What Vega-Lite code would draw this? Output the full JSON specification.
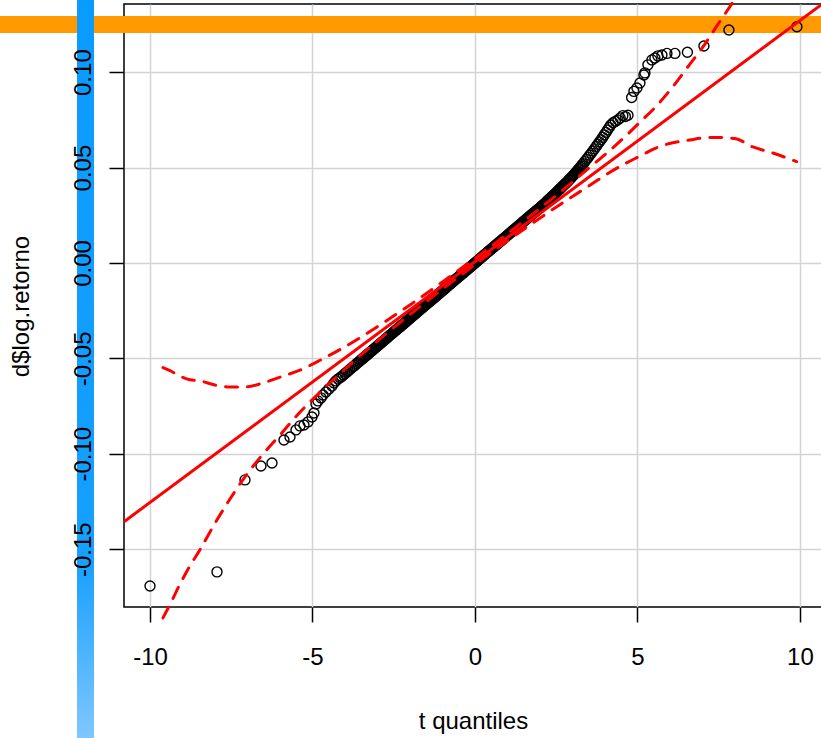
{
  "$schema": "https://vega.github.io/schema/vega-lite/v6.json",
  "width": 698,
  "height": 603,
  "autosize": {"type": "none"},
  "padding": {"left": 124, "top": 4, "right": 0, "bottom": 131},
  "background": "white",
  "config": {
    "view": {"stroke": "black", "strokeWidth": 1.5},
    "font": "Liberation Sans"
  },
  "datasets": {
    "hband": [{"x1": -15, "x2": 11, "y1": 0.1294, "y2": 0.1205}],
    "vband": [{"x1": -12.246, "x2": -11.723, "y1": 0.14, "y2": -0.25}],
    "fit": [{"x": -10.8, "y": -0.1356}, {"x": 10.65, "y": 0.1352}],
    "upper": [
      {"x": -9.6, "y": -0.0548}, {"x": -9.385, "y": -0.0564}, {"x": -9.077, "y": -0.0593}, {"x": -8.769, "y": -0.0612},
      {"x": -8.462, "y": -0.0618}, {"x": -8.0, "y": -0.064}, {"x": -7.538, "y": -0.065}, {"x": -7.077, "y": -0.065},
      {"x": -6.554, "y": -0.0631}, {"x": -6.0, "y": -0.0598}, {"x": -5.385, "y": -0.0562}, {"x": -4.769, "y": -0.051},
      {"x": -4.154, "y": -0.0454}, {"x": -3.538, "y": -0.0392}, {"x": -2.769, "y": -0.0308}, {"x": -1.846, "y": -0.0202},
      {"x": -0.923, "y": -0.009}, {"x": 0, "y": 0.0024}, {"x": 0.923, "y": 0.0143}, {"x": 1.846, "y": 0.0265},
      {"x": 2.769, "y": 0.0391}, {"x": 3.538, "y": 0.0502}, {"x": 4.154, "y": 0.059}, {"x": 4.615, "y": 0.0661},
      {"x": 5.077, "y": 0.0738}, {"x": 5.6, "y": 0.0825}, {"x": 6.092, "y": 0.0924}, {"x": 6.615, "y": 0.1042},
      {"x": 7.015, "y": 0.1132}, {"x": 7.477, "y": 0.125}, {"x": 8.0, "y": 0.1385}, {"x": 8.308, "y": 0.1476}
    ],
    "lower": [
      {"x": -9.6, "y": -0.186}, {"x": -9.385, "y": -0.179}, {"x": -9.077, "y": -0.1683}, {"x": -8.769, "y": -0.1587},
      {"x": -8.462, "y": -0.1503}, {"x": -8.0, "y": -0.1364}, {"x": -7.538, "y": -0.1237}, {"x": -7.077, "y": -0.1121},
      {"x": -6.554, "y": -0.1008}, {"x": -6.0, "y": -0.0902}, {"x": -5.385, "y": -0.0782}, {"x": -4.769, "y": -0.0678},
      {"x": -4.154, "y": -0.058}, {"x": -3.538, "y": -0.0486}, {"x": -2.769, "y": -0.0376}, {"x": -1.846, "y": -0.0249},
      {"x": -0.923, "y": -0.0127}, {"x": 0, "y": -0.0008}, {"x": 0.923, "y": 0.0106}, {"x": 1.846, "y": 0.0217},
      {"x": 2.769, "y": 0.0323}, {"x": 3.538, "y": 0.0407}, {"x": 4.154, "y": 0.0475}, {"x": 4.615, "y": 0.052},
      {"x": 5.077, "y": 0.056}, {"x": 5.6, "y": 0.0605}, {"x": 6.092, "y": 0.063}, {"x": 6.615, "y": 0.0644},
      {"x": 7.015, "y": 0.0655}, {"x": 7.477, "y": 0.0658}, {"x": 8.0, "y": 0.0652}, {"x": 8.554, "y": 0.0608},
      {"x": 9.169, "y": 0.0576}, {"x": 9.898, "y": 0.0531}
    ],
    "pts": [
      {"x": -10.0, "y": -0.1693}, {"x": -7.938, "y": -0.1619}, {"x": -7.077, "y": -0.1137}, {"x": -6.585, "y": -0.1064},
      {"x": -6.246, "y": -0.1048}, {"x": -5.877, "y": -0.0928}, {"x": -5.692, "y": -0.0912}, {"x": -5.508, "y": -0.0875},
      {"x": -5.385, "y": -0.0854}, {"x": -5.262, "y": -0.0849}, {"x": -5.138, "y": -0.0833}, {"x": -5.015, "y": -0.0807},
      {"x": -4.954, "y": -0.0786}, {"x": -4.892, "y": -0.0739}, {"x": -4.831, "y": -0.0723}, {"x": -4.738, "y": -0.0707},
      {"x": -4.677, "y": -0.0692}, {"x": -4.585, "y": -0.0676}, {"x": -4.492, "y": -0.066}, {"x": -4.4, "y": -0.0645},
      {"x": -4.338, "y": -0.0629}, {"x": -4.277, "y": -0.0618}, {"x": -4.215, "y": -0.0608},
      {"x": -4.15, "y": -0.0602}, {"x": -4.1, "y": -0.0595}, {"x": -4.05, "y": -0.0587}, {"x": -4.0, "y": -0.058},
      {"x": -3.95, "y": -0.0573}, {"x": -3.9, "y": -0.0566}, {"x": -3.85, "y": -0.0558}, {"x": -3.8, "y": -0.0551},
      {"x": -3.75, "y": -0.0544}, {"x": -3.7, "y": -0.0537}, {"x": -3.65, "y": -0.0529}, {"x": -3.6, "y": -0.0522},
      {"x": -3.55, "y": -0.0515}, {"x": -3.51, "y": -0.0509},
      {"x": -3.48, "y": -0.0505}, {"x": -3.45, "y": -0.05}, {"x": -3.42, "y": -0.0496}, {"x": -3.39, "y": -0.0492},
      {"x": -3.36, "y": -0.0487}, {"x": -3.33, "y": -0.0483}, {"x": -3.3, "y": -0.0479}, {"x": -3.27, "y": -0.0474},
      {"x": -3.24, "y": -0.047}, {"x": -3.21, "y": -0.0465}, {"x": -3.18, "y": -0.0461}, {"x": -3.15, "y": -0.0457},
      {"x": -3.12, "y": -0.0452}, {"x": -3.09, "y": -0.0448}, {"x": -3.06, "y": -0.0444}, {"x": -3.03, "y": -0.0439},
      {"x": -3.0, "y": -0.0435}, {"x": -2.97, "y": -0.0431}, {"x": -2.94, "y": -0.0426}, {"x": -2.91, "y": -0.0422},
      {"x": -2.88, "y": -0.0418}, {"x": -2.85, "y": -0.0413}, {"x": -2.82, "y": -0.0409}, {"x": -2.79, "y": -0.0405},
      {"x": -2.76, "y": -0.04}, {"x": -2.73, "y": -0.0396}, {"x": -2.7, "y": -0.0392}, {"x": -2.67, "y": -0.0387},
      {"x": -2.64, "y": -0.0383}, {"x": -2.61, "y": -0.0378}, {"x": -2.58, "y": -0.0374}, {"x": -2.55, "y": -0.037},
      {"x": -2.52, "y": -0.0365}, {"x": -2.49, "y": -0.0361}, {"x": -2.46, "y": -0.0357}, {"x": -2.43, "y": -0.0352},
      {"x": -2.4, "y": -0.0348}, {"x": -2.37, "y": -0.0344}, {"x": -2.34, "y": -0.0339}, {"x": -2.31, "y": -0.0335},
      {"x": -2.28, "y": -0.0331}, {"x": -2.25, "y": -0.0326}, {"x": -2.22, "y": -0.0322}, {"x": -2.19, "y": -0.0318},
      {"x": -2.16, "y": -0.0313}, {"x": -2.13, "y": -0.0309}, {"x": -2.1, "y": -0.0305}, {"x": -2.07, "y": -0.03},
      {"x": -2.04, "y": -0.0296}, {"x": -2.01, "y": -0.0291}, {"x": -1.98, "y": -0.0287}, {"x": -1.95, "y": -0.0283},
      {"x": -1.92, "y": -0.0278}, {"x": -1.89, "y": -0.0274}, {"x": -1.86, "y": -0.027}, {"x": -1.83, "y": -0.0265},
      {"x": -1.8, "y": -0.0261}, {"x": -1.77, "y": -0.0257}, {"x": -1.74, "y": -0.0252}, {"x": -1.71, "y": -0.0248},
      {"x": -1.68, "y": -0.0244}, {"x": -1.65, "y": -0.0239}, {"x": -1.62, "y": -0.0235}, {"x": -1.59, "y": -0.0231},
      {"x": -1.56, "y": -0.0226}, {"x": -1.53, "y": -0.0222}, {"x": -1.5, "y": -0.0218}, {"x": -1.47, "y": -0.0213},
      {"x": -1.44, "y": -0.0209}, {"x": -1.41, "y": -0.0204}, {"x": -1.38, "y": -0.02}, {"x": -1.35, "y": -0.0196},
      {"x": -1.32, "y": -0.0191}, {"x": -1.29, "y": -0.0187}, {"x": -1.26, "y": -0.0183}, {"x": -1.23, "y": -0.0178},
      {"x": -1.2, "y": -0.0174}, {"x": -1.17, "y": -0.017}, {"x": -1.14, "y": -0.0165}, {"x": -1.11, "y": -0.0161},
      {"x": -1.08, "y": -0.0157}, {"x": -1.05, "y": -0.0152}, {"x": -1.02, "y": -0.0148}, {"x": -0.99, "y": -0.0144},
      {"x": -0.96, "y": -0.0139}, {"x": -0.93, "y": -0.0135}, {"x": -0.9, "y": -0.0131}, {"x": -0.87, "y": -0.0126},
      {"x": -0.84, "y": -0.0122}, {"x": -0.81, "y": -0.0117}, {"x": -0.78, "y": -0.0113}, {"x": -0.75, "y": -0.0109},
      {"x": -0.72, "y": -0.0104}, {"x": -0.69, "y": -0.01}, {"x": -0.66, "y": -0.0096}, {"x": -0.63, "y": -0.0091},
      {"x": -0.6, "y": -0.0087}, {"x": -0.57, "y": -0.0083}, {"x": -0.54, "y": -0.0078}, {"x": -0.51, "y": -0.0074},
      {"x": -0.48, "y": -0.007}, {"x": -0.45, "y": -0.0065}, {"x": -0.42, "y": -0.0061}, {"x": -0.39, "y": -0.0057},
      {"x": -0.36, "y": -0.0052}, {"x": -0.33, "y": -0.0048}, {"x": -0.3, "y": -0.0044}, {"x": -0.27, "y": -0.0039},
      {"x": -0.24, "y": -0.0035}, {"x": -0.21, "y": -0.003}, {"x": -0.18, "y": -0.0026}, {"x": -0.15, "y": -0.0022},
      {"x": -0.12, "y": -0.0017}, {"x": -0.09, "y": -0.0013}, {"x": -0.06, "y": -0.0009}, {"x": -0.03, "y": -0.0004},
      {"x": 0.0, "y": 0.0}, {"x": 0.03, "y": 0.0004}, {"x": 0.06, "y": 0.0009}, {"x": 0.09, "y": 0.0013},
      {"x": 0.12, "y": 0.0017}, {"x": 0.15, "y": 0.0022}, {"x": 0.18, "y": 0.0026}, {"x": 0.21, "y": 0.003},
      {"x": 0.24, "y": 0.0035}, {"x": 0.27, "y": 0.0039}, {"x": 0.3, "y": 0.0044}, {"x": 0.33, "y": 0.0048},
      {"x": 0.36, "y": 0.0052}, {"x": 0.39, "y": 0.0057}, {"x": 0.42, "y": 0.0061}, {"x": 0.45, "y": 0.0065},
      {"x": 0.48, "y": 0.007}, {"x": 0.51, "y": 0.0074}, {"x": 0.54, "y": 0.0078}, {"x": 0.57, "y": 0.0083},
      {"x": 0.6, "y": 0.0087}, {"x": 0.63, "y": 0.0091}, {"x": 0.66, "y": 0.0096}, {"x": 0.69, "y": 0.01},
      {"x": 0.72, "y": 0.0104}, {"x": 0.75, "y": 0.0109}, {"x": 0.78, "y": 0.0113}, {"x": 0.81, "y": 0.0117},
      {"x": 0.84, "y": 0.0122}, {"x": 0.87, "y": 0.0126}, {"x": 0.9, "y": 0.0131}, {"x": 0.93, "y": 0.0135},
      {"x": 0.96, "y": 0.0139}, {"x": 0.99, "y": 0.0144}, {"x": 1.02, "y": 0.0148}, {"x": 1.05, "y": 0.0152},
      {"x": 1.08, "y": 0.0157}, {"x": 1.11, "y": 0.0161}, {"x": 1.14, "y": 0.0165}, {"x": 1.17, "y": 0.017},
      {"x": 1.2, "y": 0.0174}, {"x": 1.23, "y": 0.0178}, {"x": 1.26, "y": 0.0183}, {"x": 1.29, "y": 0.0187},
      {"x": 1.32, "y": 0.0191}, {"x": 1.35, "y": 0.0196}, {"x": 1.38, "y": 0.02}, {"x": 1.41, "y": 0.0204},
      {"x": 1.44, "y": 0.0209}, {"x": 1.47, "y": 0.0213}, {"x": 1.5, "y": 0.0218}, {"x": 1.53, "y": 0.0222},
      {"x": 1.56, "y": 0.0226}, {"x": 1.59, "y": 0.0231}, {"x": 1.62, "y": 0.0235}, {"x": 1.65, "y": 0.0239},
      {"x": 1.68, "y": 0.0244}, {"x": 1.71, "y": 0.0248}, {"x": 1.74, "y": 0.0252}, {"x": 1.77, "y": 0.0257},
      {"x": 1.8, "y": 0.0261}, {"x": 1.83, "y": 0.0265}, {"x": 1.86, "y": 0.027}, {"x": 1.89, "y": 0.0274},
      {"x": 1.92, "y": 0.0278}, {"x": 1.95, "y": 0.0283}, {"x": 1.98, "y": 0.0287}, {"x": 2.01, "y": 0.0291},
      {"x": 2.04, "y": 0.0296}, {"x": 2.07, "y": 0.03}, {"x": 2.1, "y": 0.0305}, {"x": 2.13, "y": 0.0309},
      {"x": 2.16, "y": 0.0313}, {"x": 2.19, "y": 0.0318}, {"x": 2.22, "y": 0.0324}, {"x": 2.25, "y": 0.0329},
      {"x": 2.28, "y": 0.0334}, {"x": 2.31, "y": 0.0338}, {"x": 2.34, "y": 0.0343}, {"x": 2.37, "y": 0.0348},
      {"x": 2.4, "y": 0.0352}, {"x": 2.43, "y": 0.0357}, {"x": 2.46, "y": 0.0362}, {"x": 2.49, "y": 0.0367},
      {"x": 2.52, "y": 0.0372}, {"x": 2.55, "y": 0.0377}, {"x": 2.58, "y": 0.0382}, {"x": 2.61, "y": 0.0387},
      {"x": 2.64, "y": 0.0392}, {"x": 2.67, "y": 0.0397}, {"x": 2.7, "y": 0.0402}, {"x": 2.73, "y": 0.0407},
      {"x": 2.76, "y": 0.0412}, {"x": 2.79, "y": 0.0417}, {"x": 2.82, "y": 0.0422}, {"x": 2.85, "y": 0.0427},
      {"x": 2.88, "y": 0.0433}, {"x": 2.91, "y": 0.0438}, {"x": 2.94, "y": 0.0443}, {"x": 2.97, "y": 0.0449},
      {"x": 3.0, "y": 0.0454}, {"x": 3.03, "y": 0.046}, {"x": 3.06, "y": 0.0465}, {"x": 3.09, "y": 0.0471},
      {"x": 3.12, "y": 0.0477}, {"x": 3.15, "y": 0.0483}, {"x": 3.18, "y": 0.0489}, {"x": 3.21, "y": 0.0495},
      {"x": 3.24, "y": 0.0501}, {"x": 3.27, "y": 0.0508}, {"x": 3.3, "y": 0.0514}, {"x": 3.33, "y": 0.052},
      {"x": 3.38, "y": 0.0531}, {"x": 3.43, "y": 0.0542}, {"x": 3.48, "y": 0.0553}, {"x": 3.53, "y": 0.0564},
      {"x": 3.58, "y": 0.0575}, {"x": 3.63, "y": 0.0587}, {"x": 3.68, "y": 0.0598}, {"x": 3.73, "y": 0.061},
      {"x": 3.78, "y": 0.0622}, {"x": 3.83, "y": 0.0634}, {"x": 3.88, "y": 0.0646}, {"x": 3.93, "y": 0.0658},
      {"x": 3.98, "y": 0.0671}, {"x": 4.03, "y": 0.0684}, {"x": 4.08, "y": 0.0697}, {"x": 4.13, "y": 0.071},
      {"x": 4.18, "y": 0.0723}, {"x": 4.25, "y": 0.0735}, {"x": 4.32, "y": 0.0742}, {"x": 4.4, "y": 0.075},
      {"x": 4.47, "y": 0.076}, {"x": 4.55, "y": 0.0772}, {"x": 4.63, "y": 0.0767}, {"x": 4.71, "y": 0.0774},
      {"x": 4.822, "y": 0.0867}, {"x": 4.892, "y": 0.0899}, {"x": 4.985, "y": 0.0917}, {"x": 5.077, "y": 0.0943},
      {"x": 5.2, "y": 0.0985}, {"x": 5.231, "y": 0.0996}, {"x": 5.323, "y": 0.1038}, {"x": 5.446, "y": 0.1064},
      {"x": 5.538, "y": 0.1074}, {"x": 5.631, "y": 0.1085}, {"x": 5.754, "y": 0.109}, {"x": 5.908, "y": 0.1098},
      {"x": 6.154, "y": 0.1098}, {"x": 6.538, "y": 0.1104}, {"x": 7.046, "y": 0.1137}, {"x": 7.815, "y": 0.1221},
      {"x": 9.908, "y": 0.1238}
    ]
  },
  "layer": [
    {
      "data": {"name": "hband"},
      "mark": {"type": "rect", "fill": "#ff9a00", "clip": false},
      "encoding": {
        "x": {"field": "x1", "type": "quantitative", "scale": {"domain": [-10.8, 10.68], "nice": false, "zero": false},
          "axis": {"orient": "bottom", "values": [-10, -5, 0, 5, 10], "grid": true, "gridColor": "#d3d3d3", "gridWidth": 1.5,
            "labels": false, "ticks": false, "domain": false, "title": null, "zindex": 0}},
        "x2": {"field": "x2"},
        "y": {"field": "y1", "type": "quantitative", "scale": {"domain": [-0.1803, 0.1357], "nice": false, "zero": false},
          "axis": {"orient": "left", "values": [-0.15, -0.1, -0.05, 0, 0.05, 0.1], "grid": true, "gridColor": "#d3d3d3", "gridWidth": 1.5,
            "labels": false, "ticks": false, "domain": false, "title": null, "zindex": 0}},
        "y2": {"field": "y2"}
      }
    },
    {
      "data": {"name": "vband"},
      "mark": {"type": "rect", "clip": false,
        "fill": {"gradient": "linear", "x1": 0, "y1": 0, "x2": 0, "y2": 1,
          "stops": [{"offset": 0, "color": "#0a9bff"}, {"offset": 0.76, "color": "#16a0ff"}, {"offset": 1, "color": "#80c7ff"}]}},
      "encoding": {
        "x": {"field": "x1", "type": "quantitative", "scale": {"domain": [-10.8, 10.68], "nice": false, "zero": false},
          "axis": {"orient": "bottom", "values": [-10, -5, 0, 5, 10], "grid": false, "domain": false, "zindex": 1,
            "ticks": true, "tickSize": 15, "tickWidth": 1.5, "tickColor": "black",
            "labelExpr": "datum.value < 0 ? '-' + format(-datum.value, 'd') : format(datum.value, 'd')",
            "labelFont": "Liberation Sans", "labelFontSize": 24, "labelColor": "black", "labelPadding": 23,
            "labelBaseline": "top", "labelAlign": "center", "labelFlush": false, "labelOverlap": false,
            "title": "t quantiles", "titleFont": "Liberation Sans", "titleFontSize": 24, "titleFontWeight": "normal",
            "titleColor": "black", "titleBaseline": "alphabetic", "titleAlign": "center", "titleX": 349, "titleY": 121}},
        "x2": {"field": "x2"},
        "y": {"field": "y1", "type": "quantitative", "scale": {"domain": [-0.1803, 0.1357], "nice": false, "zero": false},
          "axis": {"orient": "left", "values": [-0.15, -0.1, -0.05, 0, 0.05, 0.1], "grid": false, "domain": false, "zindex": 1,
            "ticks": true, "tickSize": 15, "tickWidth": 1.5, "tickColor": "black",
            "labelExpr": "datum.value < 0 ? '-' + format(-datum.value, '.2f') : format(datum.value, '.2f')",
            "labelFont": "Liberation Sans", "labelFontSize": 24, "labelColor": "black", "labelPadding": 19,
            "labelAngle": -90, "labelAlign": "center", "labelBaseline": "alphabetic", "labelFlush": false, "labelOverlap": false,
            "title": "d$log.retorno", "titleFont": "Liberation Sans", "titleFontSize": 24, "titleFontWeight": "normal",
            "titleColor": "black", "titleAngle": -90, "titleBaseline": "alphabetic", "titleAlign": "center", "titleX": -96, "titleY": 302}},
        "y2": {"field": "y2"}
      }
    },
    {
      "data": {"name": "pts"},
      "mark": {"type": "point", "shape": "circle", "filled": false, "color": "black", "strokeWidth": 1.4, "size": 100, "opacity": 1, "clip": false},
      "encoding": {
        "x": {"field": "x", "type": "quantitative", "scale": {"domain": [-10.8, 10.68], "nice": false, "zero": false}, "axis": null},
        "y": {"field": "y", "type": "quantitative", "scale": {"domain": [-0.1803, 0.1357], "nice": false, "zero": false}, "axis": null}
      }
    },
    {
      "data": {"name": "fit"},
      "mark": {"type": "line", "color": "#ff0000", "strokeWidth": 3, "clip": false},
      "encoding": {
        "x": {"field": "x", "type": "quantitative", "scale": {"domain": [-10.8, 10.68], "nice": false, "zero": false}, "axis": null},
        "y": {"field": "y", "type": "quantitative", "scale": {"domain": [-0.1803, 0.1357], "nice": false, "zero": false}, "axis": null}
      }
    },
    {
      "data": {"name": "upper"},
      "mark": {"type": "line", "color": "#ff0000", "strokeWidth": 3, "strokeDash": [12, 10], "strokeCap": "round", "interpolate": "monotone", "clip": false},
      "encoding": {
        "x": {"field": "x", "type": "quantitative", "scale": {"domain": [-10.8, 10.68], "nice": false, "zero": false}, "axis": null},
        "y": {"field": "y", "type": "quantitative", "scale": {"domain": [-0.1803, 0.1357], "nice": false, "zero": false}, "axis": null}
      }
    },
    {
      "data": {"name": "lower"},
      "mark": {"type": "line", "color": "#ff0000", "strokeWidth": 3, "strokeDash": [12, 10], "strokeCap": "round", "interpolate": "monotone", "clip": false},
      "encoding": {
        "x": {"field": "x", "type": "quantitative", "scale": {"domain": [-10.8, 10.68], "nice": false, "zero": false}, "axis": null},
        "y": {"field": "y", "type": "quantitative", "scale": {"domain": [-0.1803, 0.1357], "nice": false, "zero": false}, "axis": null}
      }
    }
  ],
  "resolve": {"axis": {"x": "independent", "y": "independent"}}
}
